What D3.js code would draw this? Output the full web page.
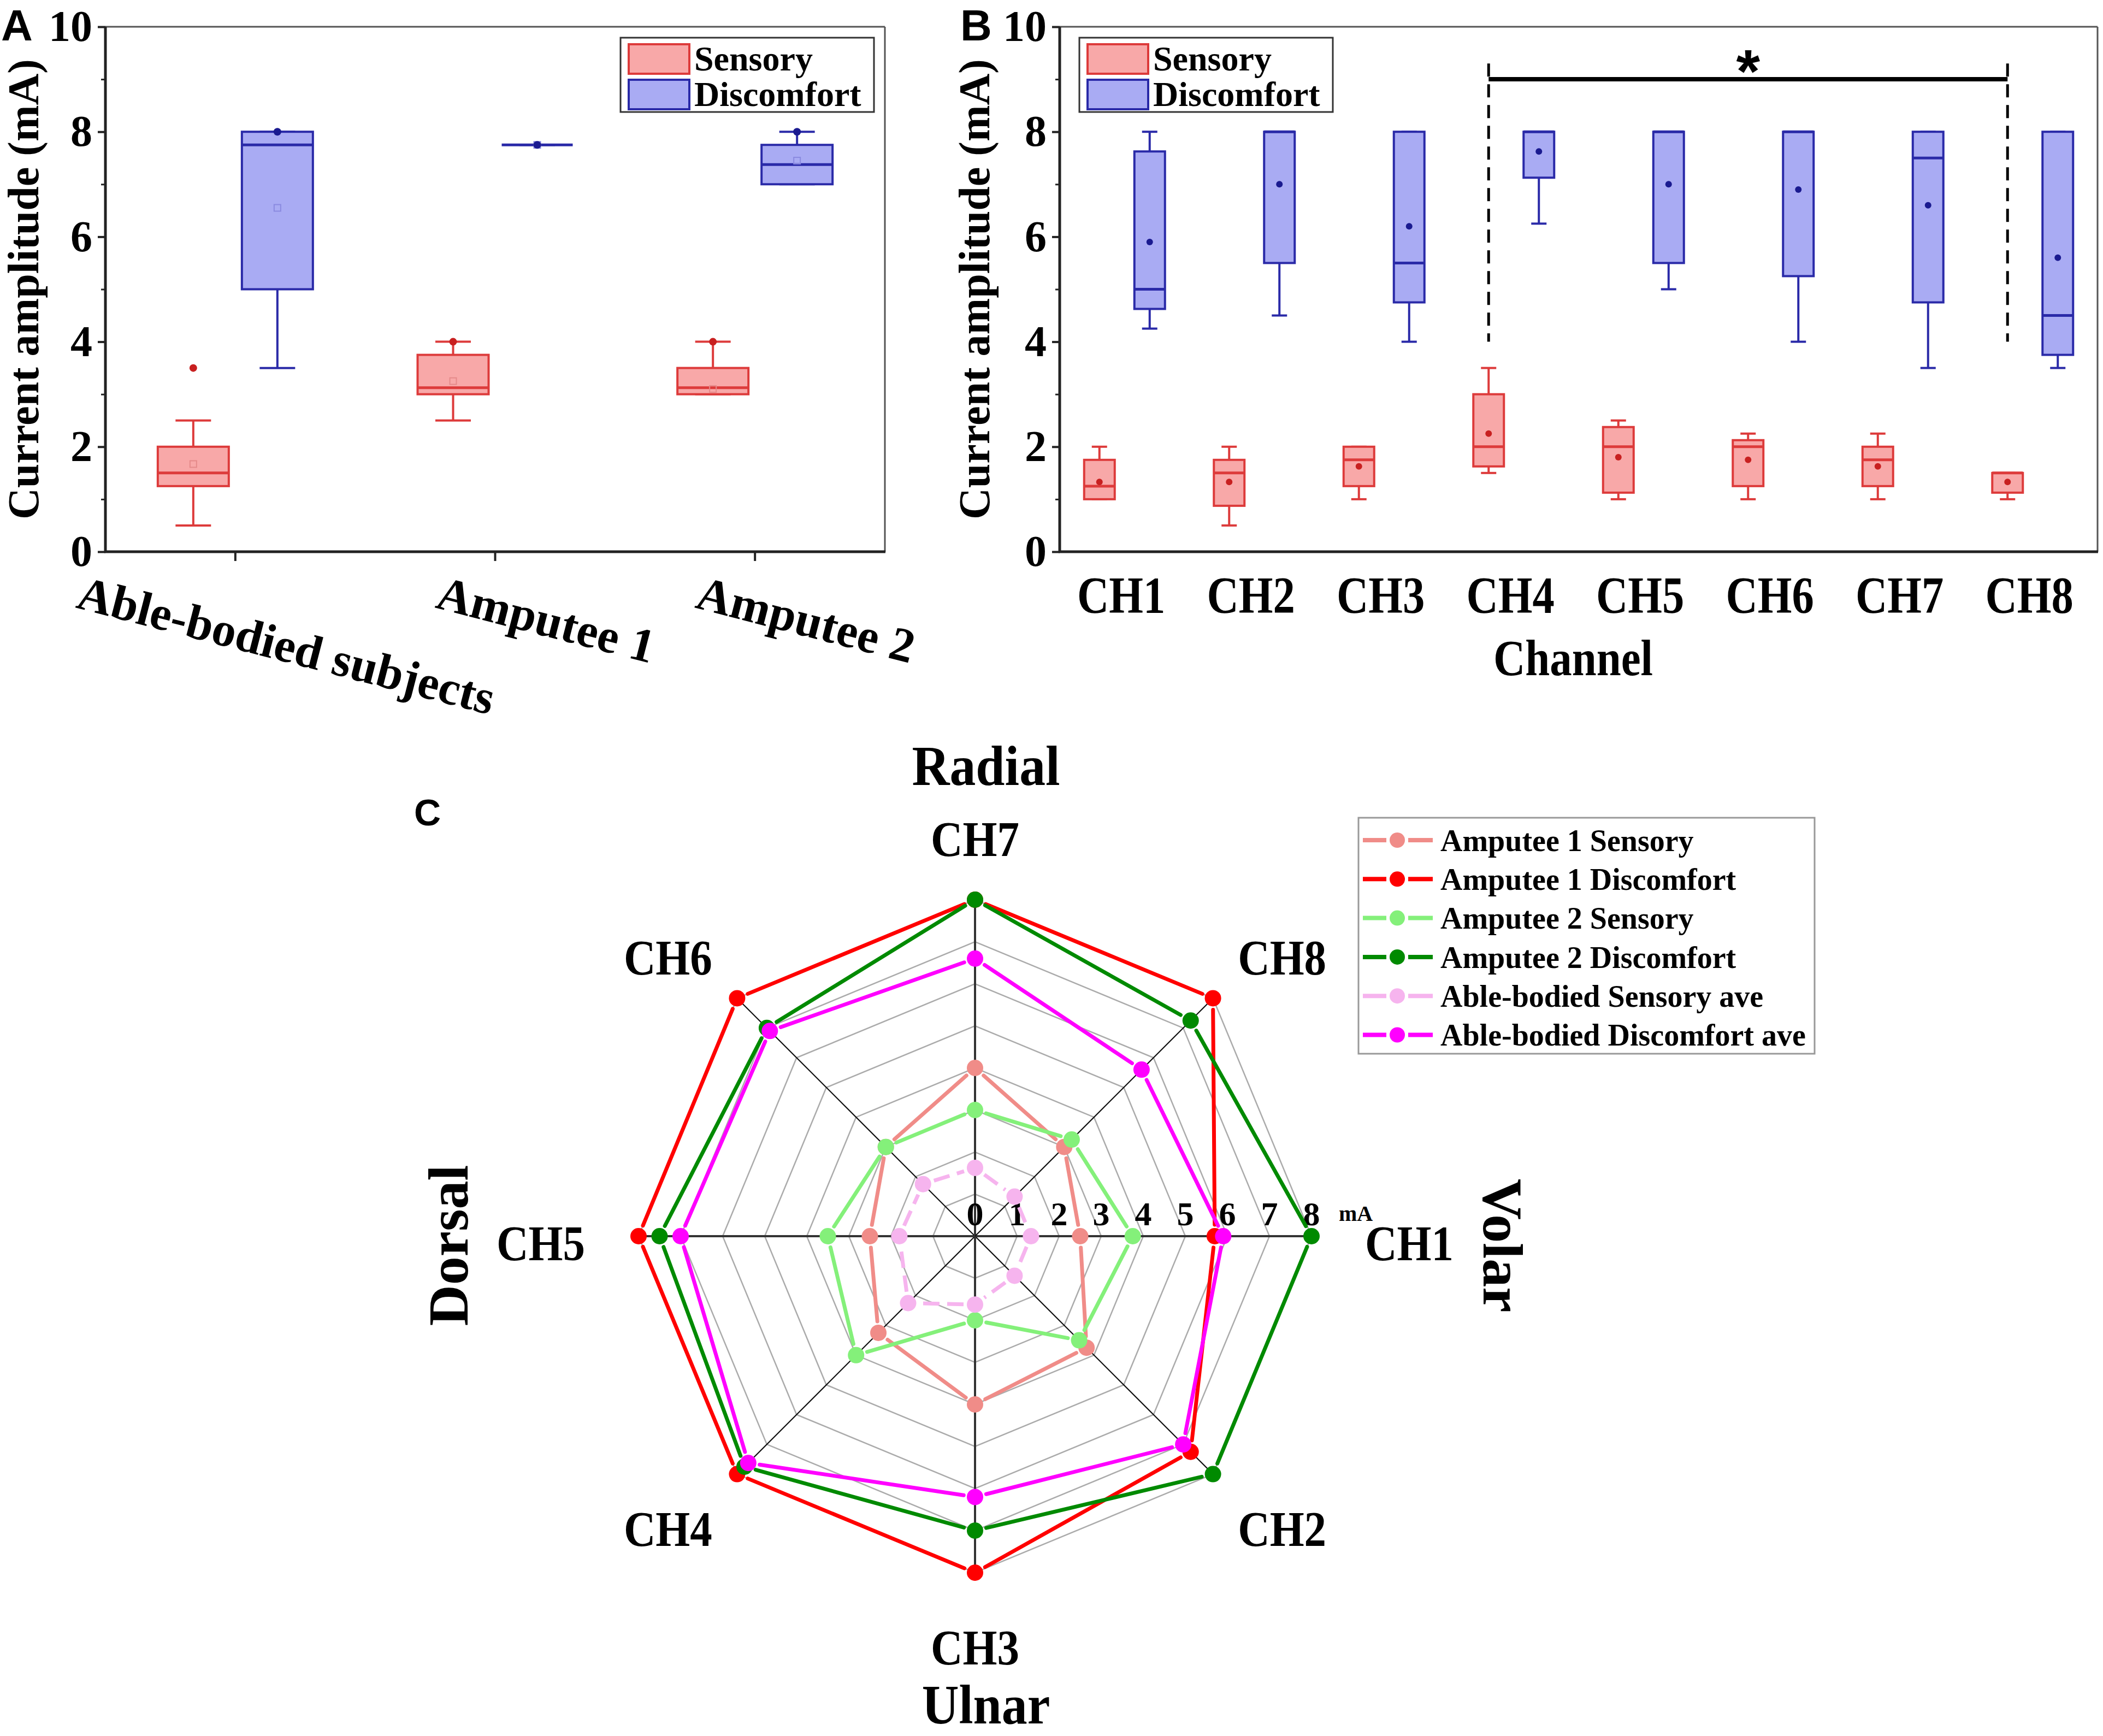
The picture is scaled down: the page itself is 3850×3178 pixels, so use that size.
<!DOCTYPE html>
<html><head><meta charset="utf-8">
<script src="https://cdn.jsdelivr.net/npm/d3@7"></script>
<style>
body{margin:0;background:#fff}
svg{display:block}
text{font-family:"Liberation Serif","Times New Roman",serif;font-weight:bold;fill:#000}
.sans{font-family:"Liberation Sans",Arial,sans-serif}
</style>
</head><body>
<svg id="fig" width="3850" height="3178"></svg>
<script>
// ---------------- DATA ----------------
// Panel A: [min, q1, median, q3, max]
const groupsA = ["Able-bodied subjects", "Amputee 1", "Amputee 2"];
const sensoryA = [[0.5,1.25,1.5,2.0,2.5],[2.5,3.0,3.125,3.75,4.0],[3.0,3.0,3.125,3.5,4.0]];
const sensoryAMean = [1.67, 3.25, 3.1];
const sensoryADot = [3.5, 4.0, 4.0];
const discomfortA = [[3.5,5.0,7.75,8.0,8.0],[7.75,7.75,7.75,7.75,7.75],[7.0,7.0,7.375,7.75,8.0]];
const discomfortAMean = [6.55, 7.75, 7.45];
const discomfortADot = [8.0, 7.75, 8.0];

// Panel B
const channels = ["CH1","CH2","CH3","CH4","CH5","CH6","CH7","CH8"];
const sensoryB = [
  [1.0,1.0,1.25,1.75,2.0],[0.5,0.875,1.5,1.75,2.0],[1.0,1.25,1.75,2.0,2.0],[1.5,1.625,2.0,3.0,3.5],
  [1.0,1.125,2.0,2.375,2.5],[1.0,1.25,2.0,2.125,2.25],[1.0,1.25,1.75,2.0,2.25],[1.0,1.125,1.5,1.5,1.5]];
const sensoryBMean = [1.33,1.33,1.625,2.25,1.8,1.75,1.625,1.33];
const discomfortB = [
  [4.25,4.625,5.0,7.625,8.0],[4.5,5.5,8.0,8.0,8.0],[4.0,4.75,5.5,8.0,8.0],[6.25,7.125,8.0,8.0,8.0],
  [5.0,5.5,8.0,8.0,8.0],[4.0,5.25,8.0,8.0,8.0],[3.5,4.75,7.5,8.0,8.0],[3.5,3.75,4.5,8.0,8.0]];
const discomfortBMean = [5.9,7.0,6.2,7.625,7.0,6.9,6.6,5.6];
const sigFrom = "CH4", sigTo = "CH8", sigLevel = 9.0, sigTop = 9.3, sigBottom = 4.0;

const yTicksMajor = [0,2,4,6,8,10];
const yTicksMinor = [1,3,5,7,9];
const legendBox = ["Sensory","Discomfort"];

// Panel C (radar)
const radarChannels = ["CH1","CH2","CH3","CH4","CH5","CH6","CH7","CH8"];
const radarNames = ["Amputee 1 Sensory","Amputee 1 Discomfort","Amputee 2 Sensory","Amputee 2 Discomfort","Able-bodied Sensory ave","Able-bodied Discomfort ave"];
const amp1Sensory    = [2.5, 3.75, 4.0, 3.25, 2.5, 3.0, 4.0, 3.0];
const amp1Discomfort = [5.7, 7.25, 8.0, 8.0, 8.0, 8.0, 8.0, 8.0];
const amp2Sensory    = [3.75, 3.5, 2.0, 4.0, 3.5, 3.0, 3.0, 3.25];
const amp2Discomfort = [8.0, 8.0, 7.0, 7.75, 7.5, 7.0, 8.0, 7.25];
const ableSensory    = [1.33, 1.33, 1.625, 2.25, 1.8, 1.75, 1.625, 1.33];
const ableDiscomfort = [5.9, 7.0, 6.2, 7.625, 7.0, 6.9, 6.6, 5.6];
const radarTicks = [0,1,2,3,4,5,6,7,8];
const radarUnit = "mA";
const sideLabels = ["Radial","Ulnar","Dorsal","Volar"];

// ---------------- STYLE ----------------
const SENS_FILL = "#f8a8a8", SENS_STROKE = "#dd3b3b";
const DIS_FILL = "#a9abf3", DIS_STROKE = "#2a2aa8";
const radarColors = ["#f08c88","#ff0000","#84f07a","#008a00","#f6b4ee","#ff00ff"];
const radarDash = [null,null,null,null,"30,14",null];

const svg = d3.select("#fig");
svg.append("rect").attr("width",3850).attr("height",3178).attr("fill","#fff");

const yBottom = 1010, yTop = 49;
const yS = d3.scaleLinear().domain([0,10]).range([yBottom, yTop]);

function frame(g, x0, x1){
  g.append("line").attr("x1",x0).attr("x2",x1).attr("y1",yTop).attr("y2",yTop).attr("stroke","#555").attr("stroke-width",3);
  g.append("line").attr("x1",x1).attr("x2",x1).attr("y1",yTop).attr("y2",yBottom).attr("stroke","#555").attr("stroke-width",3);
  g.append("line").attr("x1",x0).attr("x2",x0).attr("y1",yTop).attr("y2",yBottom+2).attr("stroke","#222").attr("stroke-width",5);
  g.append("line").attr("x1",x0-2).attr("x2",x1+1).attr("y1",yBottom).attr("y2",yBottom).attr("stroke","#222").attr("stroke-width",5);
}
function yAxis(g, x0){
  const ga = g.append("g").attr("transform",`translate(${x0},0)`)
    .call(d3.axisLeft(yS).tickValues(yTicksMajor).tickSize(14).tickPadding(10).tickFormat(d3.format("d")));
  ga.select(".domain").remove();
  ga.attr("font-family",null).attr("font-size",null);
  ga.selectAll("line").attr("stroke","#222").attr("stroke-width",4);
  ga.selectAll("text").attr("font-size",80).attr("fill","#000");
  const gm = g.append("g").attr("transform",`translate(${x0},0)`)
    .call(d3.axisLeft(yS).tickValues(yTicksMinor).tickSize(8).tickFormat(""));
  gm.select(".domain").remove();
  gm.selectAll("line").attr("stroke","#222").attr("stroke-width",3);
}
function yTitle(g, x){
  g.append("text").attr("transform",`translate(${x},${(yTop+yBottom)/2}) rotate(-90)`)
    .attr("text-anchor","middle").attr("dy","0.35em").attr("font-size",80).text("Current amplitude (mA)");
}
function box(g, xc, w, st, fill, stroke){
  const [mn,q1,md,q3,mx] = st;
  const cw = w*0.5;
  g.append("line").attr("x1",xc).attr("x2",xc).attr("y1",yS(mx)).attr("y2",yS(q3)).attr("stroke",stroke).attr("stroke-width",4);
  g.append("line").attr("x1",xc).attr("x2",xc).attr("y1",yS(q1)).attr("y2",yS(mn)).attr("stroke",stroke).attr("stroke-width",4);
  [mn,mx].forEach(v=>g.append("line").attr("x1",xc-cw/2).attr("x2",xc+cw/2).attr("y1",yS(v)).attr("y2",yS(v)).attr("stroke",stroke).attr("stroke-width",4));
  g.append("rect").attr("x",xc-w/2).attr("y",yS(q3)).attr("width",w).attr("height",Math.max(0,yS(q1)-yS(q3)))
    .attr("fill",fill).attr("stroke",stroke).attr("stroke-width",4);
  g.append("line").attr("x1",xc-w/2).attr("x2",xc+w/2).attr("y1",yS(md)).attr("y2",yS(md)).attr("stroke",stroke).attr("stroke-width",5);
}
function legend(g, x0, y0){
  const w = 464, h = 136;
  g.append("rect").attr("x",x0).attr("y",y0).attr("width",w).attr("height",h).attr("fill","#fff").attr("stroke","#333").attr("stroke-width",3);
  legendBox.forEach((name,i)=>{
    const yy = y0 + 12 + i*65;
    g.append("rect").attr("x",x0+15).attr("y",yy).attr("width",111).attr("height",54)
      .attr("fill",i?DIS_FILL:SENS_FILL).attr("stroke",i?DIS_STROKE:SENS_STROKE).attr("stroke-width",4);
    g.append("text").attr("x",x0+135).attr("y",yy+48).attr("font-size",64).text(name);
  });
}

// ---------------- PANEL A ----------------
const gA = svg.append("g");
const xA = d3.scaleBand().domain(groupsA).range([193,1620]);
const bwA = xA.bandwidth();
frame(gA, 193, 1620);
yAxis(gA, 193);
yTitle(gA, 42);
groupsA.forEach((g,i)=>{
  const c = xA(g)+bwA/2;
  gA.append("line").attr("x1",c).attr("x2",c).attr("y1",yBottom).attr("y2",yBottom+17).attr("stroke","#222").attr("stroke-width",4);
  const xs = c-77, xd = c+77;
  box(gA, xs, 130, sensoryA[i], SENS_FILL, SENS_STROKE);
  box(gA, xd, 130, discomfortA[i], DIS_FILL, DIS_STROKE);
  gA.append("rect").attr("x",xs-6).attr("y",yS(sensoryAMean[i])-6).attr("width",12).attr("height",12).attr("fill","none").attr("stroke","#e58a8a").attr("stroke-width",2);
  gA.append("rect").attr("x",xd-6).attr("y",yS(discomfortAMean[i])-6).attr("width",12).attr("height",12).attr("fill","none").attr("stroke","#8a8ae0").attr("stroke-width",2);
  gA.append("circle").attr("cx",xs).attr("cy",yS(sensoryADot[i])).attr("r",7).attr("fill","#c82020");
  gA.append("circle").attr("cx",xd).attr("cy",yS(discomfortADot[i])).attr("r",7).attr("fill","#1a1a90");
  const t = gA.append("text").attr("font-size",88).attr("text-anchor","middle").text(g);
  const L = t.node().getComputedTextLength();
  const ang = 14.5*Math.PI/180;
  t.attr("transform",`translate(${c+86},${1112 + (L/2)*Math.sin(ang)}) rotate(14.5)`);
});
legend(gA, 1136, 69);
svg.append("text").attr("class","sans").attr("x",2).attr("y",74).attr("font-size",80).text("A");

// ---------------- PANEL B ----------------
const gB = svg.append("g");
const xB = d3.scaleBand().domain(channels).range([1940,3840]);
const bwB = xB.bandwidth();
frame(gB, 1940, 3840);
yAxis(gB, 1940);
yTitle(gB, 1783);
const off = 46, wB = 56;
channels.forEach((ch,i)=>{
  const c = xB(ch)+bwB/2;
  box(gB, c-off, wB, sensoryB[i], SENS_FILL, SENS_STROKE);
  box(gB, c+off, wB, discomfortB[i], DIS_FILL, DIS_STROKE);
  gB.append("circle").attr("cx",c-off).attr("cy",yS(sensoryBMean[i])).attr("r",6).attr("fill","#c82020");
  gB.append("circle").attr("cx",c+off).attr("cy",yS(discomfortBMean[i])).attr("r",6).attr("fill","#1a1a90");
  gB.append("text").attr("transform",`translate(${c-6},1122) scale(0.84,1)`).attr("text-anchor","middle").attr("font-size",96).text(ch);
});
gB.append("text").attr("transform",`translate(${(1940+3840)/2-10},1236) scale(0.86,1)`).attr("text-anchor","middle").attr("font-size",94).text("Channel");
// significance bracket
const sx1 = xB(sigFrom)+bwB/2-off, sx2 = xB(sigTo)+bwB/2-off;
gB.append("line").attr("x1",sx1).attr("x2",sx2).attr("y1",yS(sigLevel)).attr("y2",yS(sigLevel)).attr("stroke","#000").attr("stroke-width",8);
[sx1,sx2].forEach(x=>gB.append("line").attr("x1",x).attr("x2",x).attr("y1",yS(sigTop)).attr("y2",yS(sigBottom))
  .attr("stroke","#000").attr("stroke-width",5).attr("stroke-dasharray","24,14"));
gB.append("text").attr("class","sans").attr("x",(sx1+sx2)/2).attr("y",yS(8.75)).attr("text-anchor","middle").attr("font-size",112).text("*");
legend(gB, 1976, 69);
svg.append("text").attr("class","sans").attr("x",1758).attr("y",74).attr("font-size",80).text("B");

// ---------------- PANEL C ----------------
const gC = svg.append("g");
const cx = 1785, cy = 2263;
const rS = d3.scaleLinear().domain([0,8]).range([0,616]);
const ang = i => i*Math.PI/4;
const pt = (i,v) => [cx + rS(v)*Math.cos(ang(i)), cy + rS(v)*Math.sin(ang(i))];
// grid rings
radarTicks.filter(v=>v>0).forEach(v=>{
  const pts = radarChannels.map((c,i)=>pt(i,v));
  gC.append("polygon").attr("points",pts.map(p=>p.join(",")).join(" ")).attr("fill","none").attr("stroke","#ababab").attr("stroke-width",2.5);
});
// spokes
radarChannels.forEach((c,i)=>{
  const p = pt(i,8);
  const main = i%2===0;
  gC.append("line").attr("x1",cx).attr("y1",cy).attr("x2",p[0]).attr("y2",p[1])
    .attr("stroke",main?"#333":"#111").attr("stroke-width",main?4:2.2);
});
// tick labels
radarTicks.forEach(v=>{
  gC.append("text").attr("x",cx+rS(v)).attr("y",cy-20).attr("text-anchor","middle").attr("font-size",62).text(v);
});
gC.append("text").attr("x",cx+rS(8)+50).attr("y",cy-28).attr("font-size",40).text(radarUnit);
// series
const radarData = [amp1Sensory, amp1Discomfort, amp2Sensory, amp2Discomfort, ableSensory, ableDiscomfort];
const mr = 15, gap = 21;
radarData.forEach((vals,s)=>{
  const pts = vals.map((v,i)=>pt(i,v));
  const gs = gC.append("g");
  pts.forEach((p,i)=>{
    const q = pts[(i+1)%pts.length];
    const dx=q[0]-p[0], dy=q[1]-p[1], L=Math.hypot(dx,dy);
    if (L < 2*gap+2) return;
    const ux=dx/L, uy=dy/L;
    const ln = gs.append("line").attr("x1",p[0]+ux*gap).attr("y1",p[1]+uy*gap).attr("x2",q[0]-ux*gap).attr("y2",q[1]-uy*gap)
      .attr("stroke",radarColors[s]).attr("stroke-width",7).attr("stroke-linecap","round");
    if (radarDash[s]) ln.attr("stroke-dasharray",radarDash[s]).attr("stroke-linecap","butt");
  });
  pts.forEach(p=>gs.append("circle").attr("cx",p[0]).attr("cy",p[1]).attr("r",mr).attr("fill",radarColors[s]));
});
// channel labels
radarChannels.forEach((c,i)=>{
  const x = cx + 795*Math.cos(ang(i)), y = cy + 12 + 740*Math.sin(ang(i));
  gC.append("text").attr("transform",`translate(${x},${y}) scale(0.88,1)`).attr("text-anchor","middle").attr("dy","0.35em").attr("font-size",92).text(c);
});
// side labels
gC.append("text").attr("transform",`translate(${cx+20},${cy-826}) scale(0.92,1)`).attr("text-anchor","middle").attr("font-size",104).text(sideLabels[0]);
gC.append("text").attr("transform",`translate(${cx+20},${cy+892}) scale(0.92,1)`).attr("text-anchor","middle").attr("font-size",102).text(sideLabels[1]);
gC.append("text").attr("transform",`translate(${cx-965},${cy+17}) rotate(-90)`).attr("text-anchor","middle").attr("dy","0.35em").attr("font-size",104).text(sideLabels[2]);
gC.append("text").attr("transform",`translate(${cx+967},${cy+17}) rotate(90)`).attr("text-anchor","middle").attr("dy","0.35em").attr("font-size",104).text(sideLabels[3]);
// legend
const lgx = 2487, lgy = 1497;
gC.append("rect").attr("x",lgx).attr("y",lgy).attr("width",835).attr("height",432).attr("fill","#fff").attr("stroke","#999").attr("stroke-width",3);
radarNames.forEach((n,s)=>{
  const yy = lgy + 41 + s*71.3;
  const xm = lgx + 71;
  gC.append("line").attr("x1",lgx+8).attr("x2",xm-20).attr("y1",yy).attr("y2",yy).attr("stroke",radarColors[s]).attr("stroke-width",8);
  gC.append("line").attr("x1",xm+20).attr("x2",lgx+136).attr("y1",yy).attr("y2",yy).attr("stroke",radarColors[s]).attr("stroke-width",8);
  gC.append("circle").attr("cx",xm).attr("cy",yy).attr("r",14).attr("fill",radarColors[s]);
  gC.append("text").attr("x",lgx+150).attr("y",yy).attr("dy","0.35em").attr("font-size",56).text(n);
});
svg.append("text").attr("class","sans").attr("x",758).attr("y",1511).attr("font-size",68).text("C");
</script>
</body></html>
